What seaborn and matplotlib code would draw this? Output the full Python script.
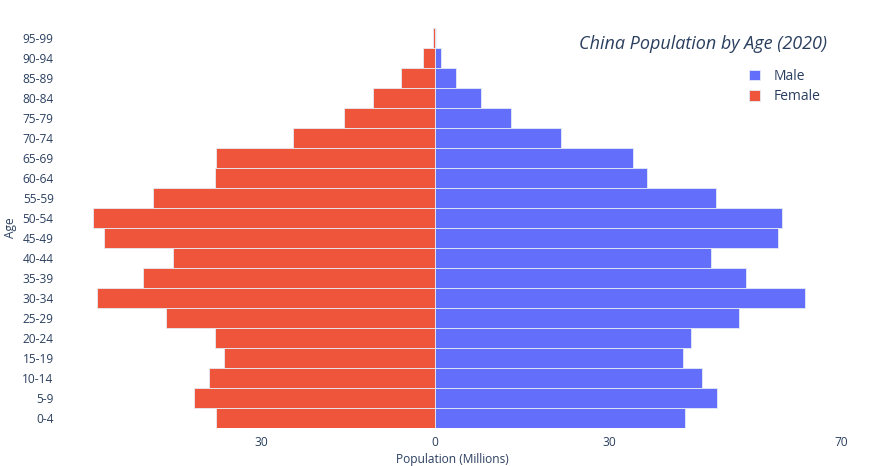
import pandas as pd
import matplotlib
matplotlib.use("Agg")
import matplotlib.pyplot as plt
import seaborn as sns

# age groups, bottom to top
ages = ["0-4", "5-9", "10-14", "15-19", "20-24", "25-29", "30-34", "35-39",
        "40-44", "45-49", "50-54", "55-59", "60-64", "65-69", "70-74",
        "75-79", "80-84", "85-89", "90-94", "95-99"]

# population in millions
male = [43.2, 48.6, 46.1, 42.8, 44.2, 52.4, 63.8, 53.7, 47.6, 59.2,
        59.9, 48.4, 36.6, 34.2, 21.7, 13.1, 8.0, 3.6, 1.0, 0.1]
female = [37.7, 41.6, 39.0, 36.3, 38.0, 46.4, 58.3, 50.4, 45.2, 57.1,
          59.0, 48.6, 37.9, 37.8, 24.5, 15.6, 10.6, 5.9, 2.0, 0.3]

xticks = [-30, 0, 30, 70]
xtick_labels = ["30", "0", "30", "70"]

male_color = "#636EFA"
female_color = "#EF553B"
text_color = "#2a3f5f"


def main():
    df = pd.concat([
        pd.DataFrame({"Age": ages, "Population": male, "Sex": "Male"}),
        pd.DataFrame({"Age": ages, "Population": [-v for v in female], "Sex": "Female"}),
    ], ignore_index=True)

    sns.set_style("white")
    plt.rcParams["font.family"] = ["Open Sans", "DejaVu Sans"]

    fig = plt.figure(figsize=(8.7, 4.66), dpi=100)
    ax = fig.add_axes([62 / 870, 38 / 466, 780 / 870, 400 / 466])

    ax.axvline(0, color="#EBF0F8", lw=2, zorder=0)
    sns.barplot(data=df, x="Population", y="Age", hue="Sex",
                order=ages[::-1], hue_order=["Male", "Female"],
                palette={"Male": male_color, "Female": female_color},
                orient="h", dodge=False, width=1.0, saturation=1,
                edgecolor="#E5ECF6", linewidth=0.6, ax=ax, zorder=2)

    ax.set_xlim(-64.3, 70.2)
    ax.set_ylim(19.5, -0.5)
    ax.set_xticks(xticks)
    ax.set_xticklabels(xtick_labels)
    ax.tick_params(axis="both", length=0, labelsize=8.6, colors=text_color)
    ax.tick_params(axis="x", pad=6)
    ax.tick_params(axis="y", pad=6)
    for s in ax.spines.values():
        s.set_visible(False)

    ax.set_xlabel("Population (Millions)", fontsize=8.6, color=text_color, labelpad=3)
    ax.set_ylabel("Age", fontsize=8.6, color=text_color, labelpad=4)

    fig.text(827 / 870, 1 - 44 / 466, "China Population by Age (2020)",
             ha="right", va="center", fontsize=12.95, style="italic",
             color=text_color)

    handles, labels = ax.get_legend_handles_labels()
    ax.legend(handles, labels, loc="upper left", frameon=False,
              bbox_to_anchor=(742 / 870, 1 - 62 / 466),
              bbox_transform=fig.transFigure, fontsize=10,
              handlelength=0.8, handleheight=0.8, handletextpad=1.0,
              labelspacing=0.4, borderpad=0, labelcolor=text_color)

    fig.savefig("out.png", dpi=100)


if __name__ == "__main__":
    main()
